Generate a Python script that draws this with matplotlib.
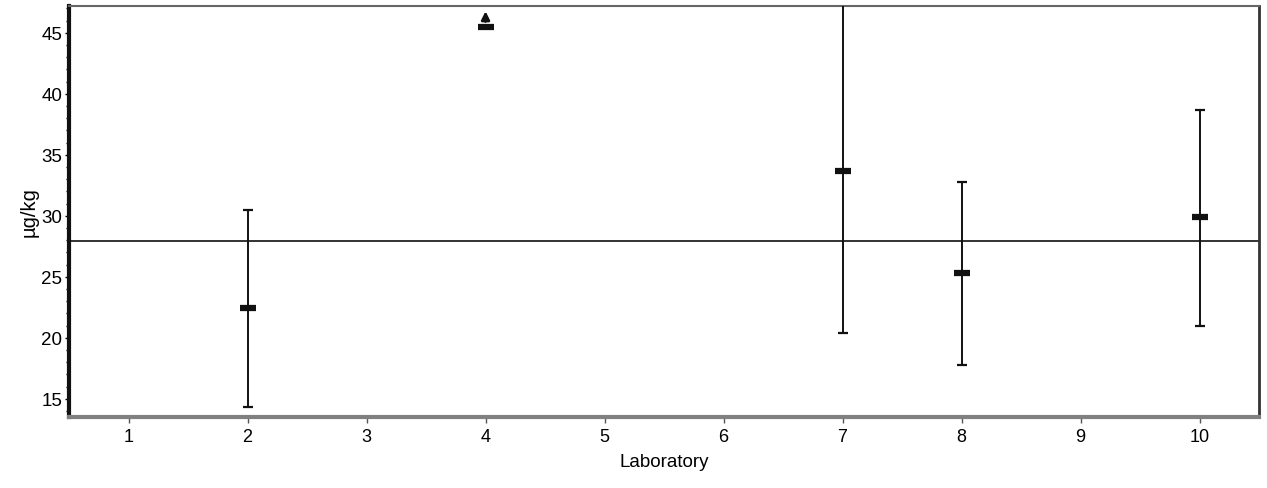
import numpy as np
import matplotlib
matplotlib.use("Agg")
import matplotlib.pyplot as plt
from matplotlib.ticker import MultipleLocator

plt.rcParams['font.family'] = ['Liberation Sans', 'DejaVu Sans']

# lab results (mean, lower, upper) in ug/kg
labs = [2, 7, 8, 10]
means = [22.45, 33.7, 25.3, 29.9]
lowers = [14.35, 20.4, 17.8, 20.95]
uppers = [30.5, 50.0, 32.8, 38.7]
# lab 4 is off scale, shown with an arrow
lab_out = 4
mean_out = 45.5
ref_value = 27.95

fig = plt.figure(figsize=(12.67, 4.89), dpi=100)
ax = fig.add_axes([0.0545, 0.1452, 0.9392, 0.8405])

means = np.array(means)
yerr = [means - np.array(lowers), np.array(uppers) - means]
ax.errorbar(labs, means, yerr=yerr, fmt='none', ecolor='#111111',
            elinewidth=1.4, capsize=3.5, capthick=1.6, zorder=3)
ax.plot(labs, means, linestyle='none', marker='_', markersize=12,
        markeredgewidth=4.5, color='#111111', zorder=4)

ax.plot([lab_out], [mean_out], linestyle='none', marker='_', markersize=12,
        markeredgewidth=4.5, color='#111111', zorder=4)
ax.annotate('', xy=(lab_out, mean_out + 1.5), xytext=(lab_out, mean_out + 0.2),
            arrowprops=dict(arrowstyle='-|>', color='#111111', lw=2,
                            mutation_scale=12))

ax.axhline(ref_value, color='#111111', lw=1.2, zorder=2)

ax.set_xlim(0.5, 10.5)
ax.set_ylim(13.5, 47.2)
ax.set_xticks(range(1, 11))
ax.yaxis.set_major_locator(MultipleLocator(5))
ax.yaxis.set_minor_locator(MultipleLocator(1))
ax.tick_params(axis='y', which='major', length=3, width=1, labelsize=13.5, pad=2)
ax.tick_params(axis='y', which='minor', length=2, width=1)
ax.tick_params(axis='x', which='major', length=4, width=1, labelsize=13,
               pad=4, color='#555555')

ax.spines['left'].set_linewidth(3)
ax.spines['left'].set_color('#111111')
ax.spines['bottom'].set_linewidth(3)
ax.spines['bottom'].set_color('#808080')
ax.spines['right'].set_linewidth(2)
ax.spines['right'].set_color('#333333')
ax.spines['top'].set_linewidth(1.5)
ax.spines['top'].set_color('#666666')

ax.set_xlabel('Laboratory', fontsize=13.5, labelpad=6)
ax.set_ylabel('µg/kg', fontsize=14.5, labelpad=2)

fig.savefig('out.png', dpi=100, facecolor='white')
